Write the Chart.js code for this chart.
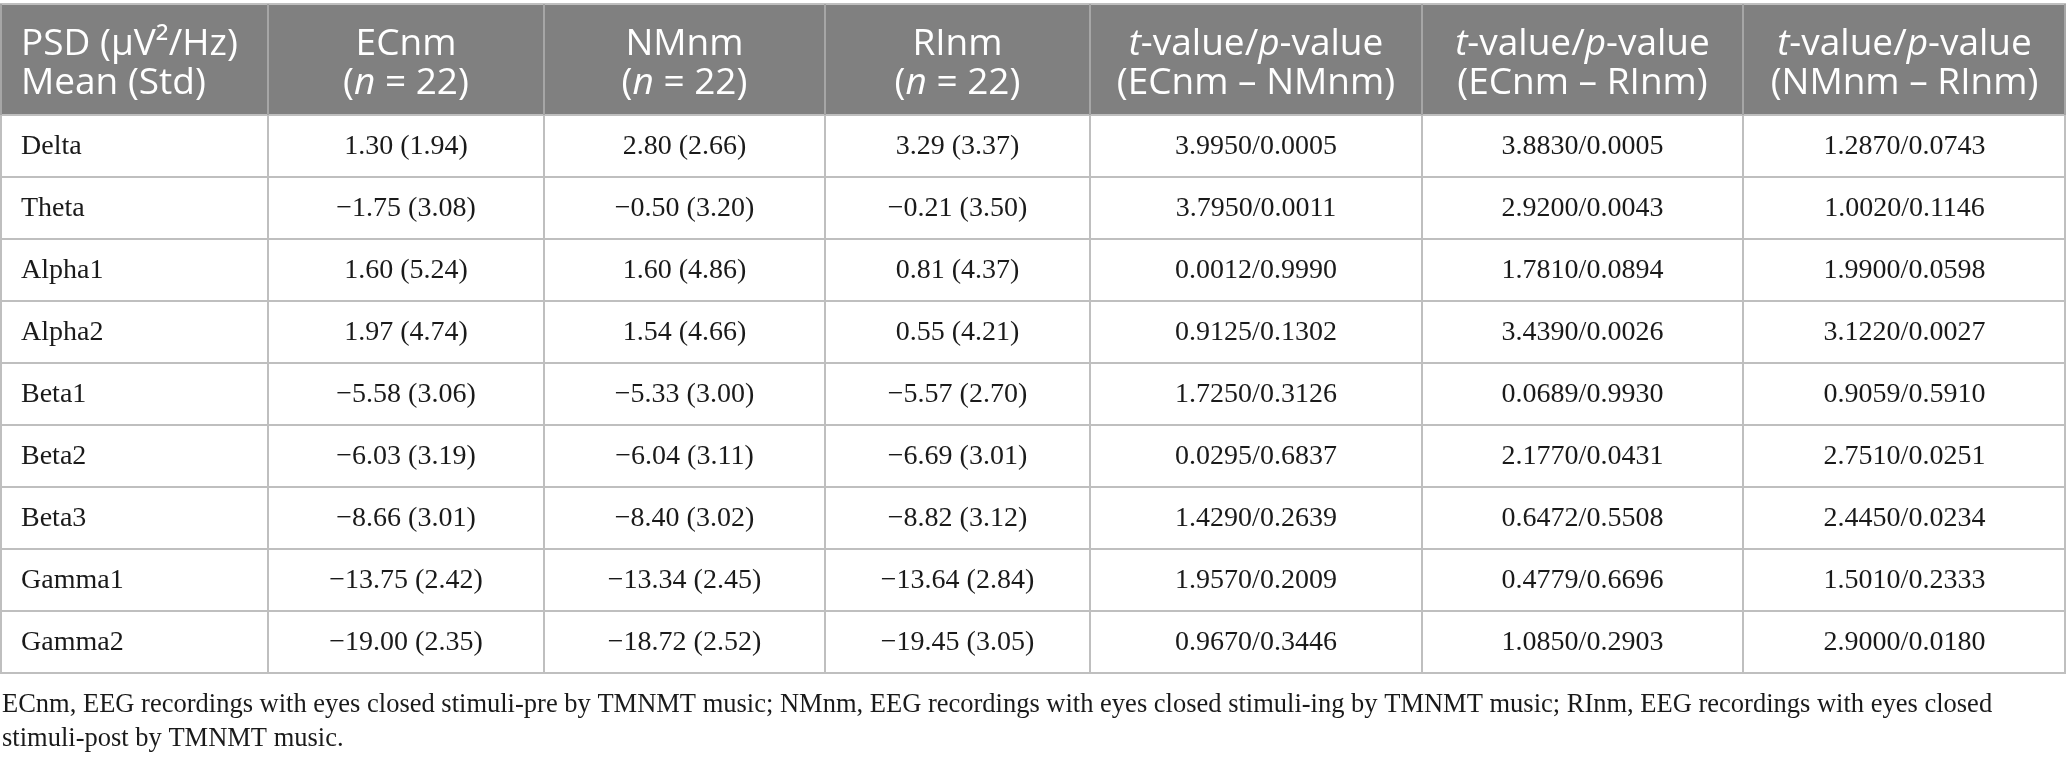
<!DOCTYPE html>
<html>
<head>
<meta charset="utf-8">
<script src="https://cdn.jsdelivr.net/npm/chart.js@4.4.1/dist/chart.umd.min.js"></script>
<style>
html, body { margin: 0; padding: 0; background: #fff; }
#wrap { width: 2066px; height: 761px; position: relative; }
</style>
</head>
<body>
<div id="wrap"><canvas id="psdTable"></canvas></div>
<script>
// Table content
const bands = ['Delta', 'Theta', 'Alpha1', 'Alpha2', 'Beta1', 'Beta2', 'Beta3', 'Gamma1', 'Gamma2'];

const ecnmMean = [1.30, -1.75, 1.60, 1.97, -5.58, -6.03, -8.66, -13.75, -19.00];
const ecnmStd = [1.94, 3.08, 5.24, 4.74, 3.06, 3.19, 3.01, 2.42, 2.35];
const nmnmMean = [2.80, -0.50, 1.60, 1.54, -5.33, -6.04, -8.40, -13.34, -18.72];
const nmnmStd = [2.66, 3.20, 4.86, 4.66, 3.00, 3.11, 3.02, 2.45, 2.52];
const rinmMean = [3.29, -0.21, 0.81, 0.55, -5.57, -6.69, -8.82, -13.64, -19.45];
const rinmStd = [3.37, 3.50, 4.37, 4.21, 2.70, 3.01, 3.12, 2.84, 3.05];

// t-value / p-value per comparison
const tEcNm = [3.9950, 3.7950, 0.0012, 0.9125, 1.7250, 0.0295, 1.4290, 1.9570, 0.9670];
const pEcNm = [0.0005, 0.0011, 0.9990, 0.1302, 0.3126, 0.6837, 0.2639, 0.2009, 0.3446];
const tEcRi = [3.8830, 2.9200, 1.7810, 3.4390, 0.0689, 2.1770, 0.6472, 0.4779, 1.0850];
const pEcRi = [0.0005, 0.0043, 0.0894, 0.0026, 0.9930, 0.0431, 0.5508, 0.6696, 0.2903];
const tNmRi = [1.2870, 1.0020, 1.9900, 3.1220, 0.9059, 2.7510, 2.4450, 1.5010, 2.9000];
const pNmRi = [0.0743, 0.1146, 0.0598, 0.0027, 0.5910, 0.0251, 0.0234, 0.2333, 0.0180];

const groupNames = ['ECnm', 'NMnm', 'RInm'];
const groupN = [22, 22, 22];
const comparisons = ['(ECnm \u2013 NMnm)', '(ECnm \u2013 RInm)', '(NMnm \u2013 RInm)'];

const footnoteLines = [
    'ECnm, EEG recordings with eyes closed stimuli-pre by TMNMT music; NMnm, EEG recordings with eyes closed stimuli-ing by TMNMT music; RInm, EEG recordings with eyes closed',
    'stimuli-post by TMNMT music.'
];

// Layout (in scale units, same as pixels here)
const colEdges = [0, 268, 544, 825, 1090, 1422, 1743, 2066];
const headerTop = 4;
const headerBottom = 115;
const rowHeight = 62;

const style = {
    headerBg: '#808080',
    headerRule: '#a6a6a6',
    rule: '#bfbfbf',
    headerText: '#ffffff',
    bodyText: '#1a1a1a',
    headerFont: '"Open Sans", sans-serif',
    headerSize: 37,
    bodyFont: '"Liberation Serif", serif',
    bodySize: 28,
    noteSize: 26.5
};

// Number formatting with true minus sign
function fmt(v, digits) {
    const s = Math.abs(v).toFixed(digits);
    return (v < 0 ? '\u2212' : '') + s;
}

// Draw a line made of plain/italic runs
function drawRuns(ctx, runs, x, y, align, size, family) {
    let total = 0;
    runs.forEach(r => {
        ctx.font = (r.italic ? 'italic ' : '') + size + 'px ' + family;
        r.w = ctx.measureText(r.text).width;
        total += r.w;
    });
    let cx = align === 'center' ? x - total / 2 : x;
    ctx.textAlign = 'left';
    runs.forEach(r => {
        ctx.font = (r.italic ? 'italic ' : '') + size + 'px ' + family;
        ctx.fillText(r.text, cx, y);
        cx += r.w;
    });
}

function headerLines(col) {
    if (col === 0) {
        return [[{ text: 'PSD (\u03bcV\u00b2/Hz)' }], [{ text: 'Mean (Std)' }]];
    }
    if (col <= 3) {
        return [
            [{ text: groupNames[col - 1] }],
            [{ text: '(' }, { text: 'n', italic: true }, { text: ' = ' + groupN[col - 1] + ')' }]
        ];
    }
    return [
        [{ text: 't', italic: true }, { text: '-value/' }, { text: 'p', italic: true }, { text: '-value' }],
        [{ text: comparisons[col - 4] }]
    ];
}

function cellText(col, row) {
    switch (col) {
        case 0: return bands[row];
        case 1: return fmt(ecnmMean[row], 2) + ' (' + fmt(ecnmStd[row], 2) + ')';
        case 2: return fmt(nmnmMean[row], 2) + ' (' + fmt(nmnmStd[row], 2) + ')';
        case 3: return fmt(rinmMean[row], 2) + ' (' + fmt(rinmStd[row], 2) + ')';
        case 4: return fmt(tEcNm[row], 4) + '/' + fmt(pEcNm[row], 4);
        case 5: return fmt(tEcRi[row], 4) + '/' + fmt(pEcRi[row], 4);
        case 6: return fmt(tNmRi[row], 4) + '/' + fmt(pNmRi[row], 4);
    }
    return '';
}

// Plugin that paints the table through the chart scales
const tablePlugin = {
    id: 'tablePlugin',
    afterDraw(chart) {
        const ctx = chart.ctx;
        const xs = chart.scales.x;
        const ys = chart.scales.y;
        const X = v => xs.getPixelForValue(v);
        const Y = v => ys.getPixelForValue(v);
        const nCols = colEdges.length - 1;
        const tableBottom = headerBottom + rowHeight * bands.length;

        ctx.save();

        // header band
        ctx.fillStyle = style.headerBg;
        ctx.fillRect(X(0), Y(headerTop), X(2066) - X(0), Y(headerBottom) - Y(headerTop));

        // header text
        ctx.fillStyle = style.headerText;
        ctx.textBaseline = 'alphabetic';
        for (let c = 0; c < nCols; c++) {
            const lines = headerLines(c);
            const left = X(colEdges[c]);
            const mid = (X(colEdges[c]) + X(colEdges[c + 1])) / 2;
            lines.forEach((runs, i) => {
                const base = Y(55 + i * 39);
                if (c === 0) drawRuns(ctx, runs, left + 21, base, 'left', style.headerSize, style.headerFont);
                else drawRuns(ctx, runs, mid, base, 'center', style.headerSize, style.headerFont);
            });
        }

        // body text
        ctx.fillStyle = style.bodyText;
        ctx.textBaseline = 'middle';
        ctx.font = style.bodySize + 'px ' + style.bodyFont;
        for (let r = 0; r < bands.length; r++) {
            const cy = Y(headerBottom + rowHeight * (r + 0.5)) + 1;
            for (let c = 0; c < nCols; c++) {
                const txt = cellText(c, r);
                if (c === 0) {
                    ctx.textAlign = 'left';
                    ctx.fillText(txt, X(colEdges[0]) + 21, cy);
                } else {
                    ctx.textAlign = 'center';
                    ctx.fillText(txt, (X(colEdges[c]) + X(colEdges[c + 1])) / 2, cy);
                }
            }
        }

        // rules
        ctx.lineWidth = 2;
        ctx.strokeStyle = style.rule;
        ctx.beginPath();
        ctx.moveTo(X(0), Y(headerTop));
        ctx.lineTo(X(2066), Y(headerTop));
        for (let r = 0; r <= bands.length; r++) {
            const yy = Y(headerBottom + rowHeight * r);
            ctx.moveTo(X(0), yy);
            ctx.lineTo(X(2066), yy);
        }
        ctx.stroke();

        // vertical rules: lighter inside header
        for (let c = 0; c <= nCols; c++) {
            let xx = X(colEdges[c]);
            if (c === 0) xx += 1;
            if (c === nCols) xx -= 1;
            ctx.strokeStyle = style.headerRule;
            ctx.beginPath();
            ctx.moveTo(xx, Y(headerTop));
            ctx.lineTo(xx, Y(headerBottom));
            ctx.stroke();
            ctx.strokeStyle = style.rule;
            ctx.beginPath();
            ctx.moveTo(xx, Y(headerBottom));
            ctx.lineTo(xx, Y(tableBottom));
            ctx.stroke();
        }

        // footnote
        ctx.fillStyle = style.bodyText;
        ctx.textAlign = 'left';
        ctx.textBaseline = 'alphabetic';
        ctx.font = style.noteSize + 'px ' + style.bodyFont;
        footnoteLines.forEach((line, i) => {
            ctx.fillText(line, X(2), Y(712 + i * 34));
        });

        ctx.restore();
    }
};

const chart = new Chart(document.getElementById('psdTable').getContext('2d'), {
    type: 'scatter',
    data: { datasets: [] },
    options: {
        responsive: true,
        maintainAspectRatio: false,
        animation: false,
        layout: { padding: 0 },
        plugins: { legend: { display: false }, tooltip: { enabled: false } },
        scales: {
            x: { type: 'linear', min: 0, max: 2066, display: false },
            y: { type: 'linear', min: 0, max: 761, reverse: true, display: false }
        }
    },
    plugins: [tablePlugin]
});
</script>
</body>
</html>
